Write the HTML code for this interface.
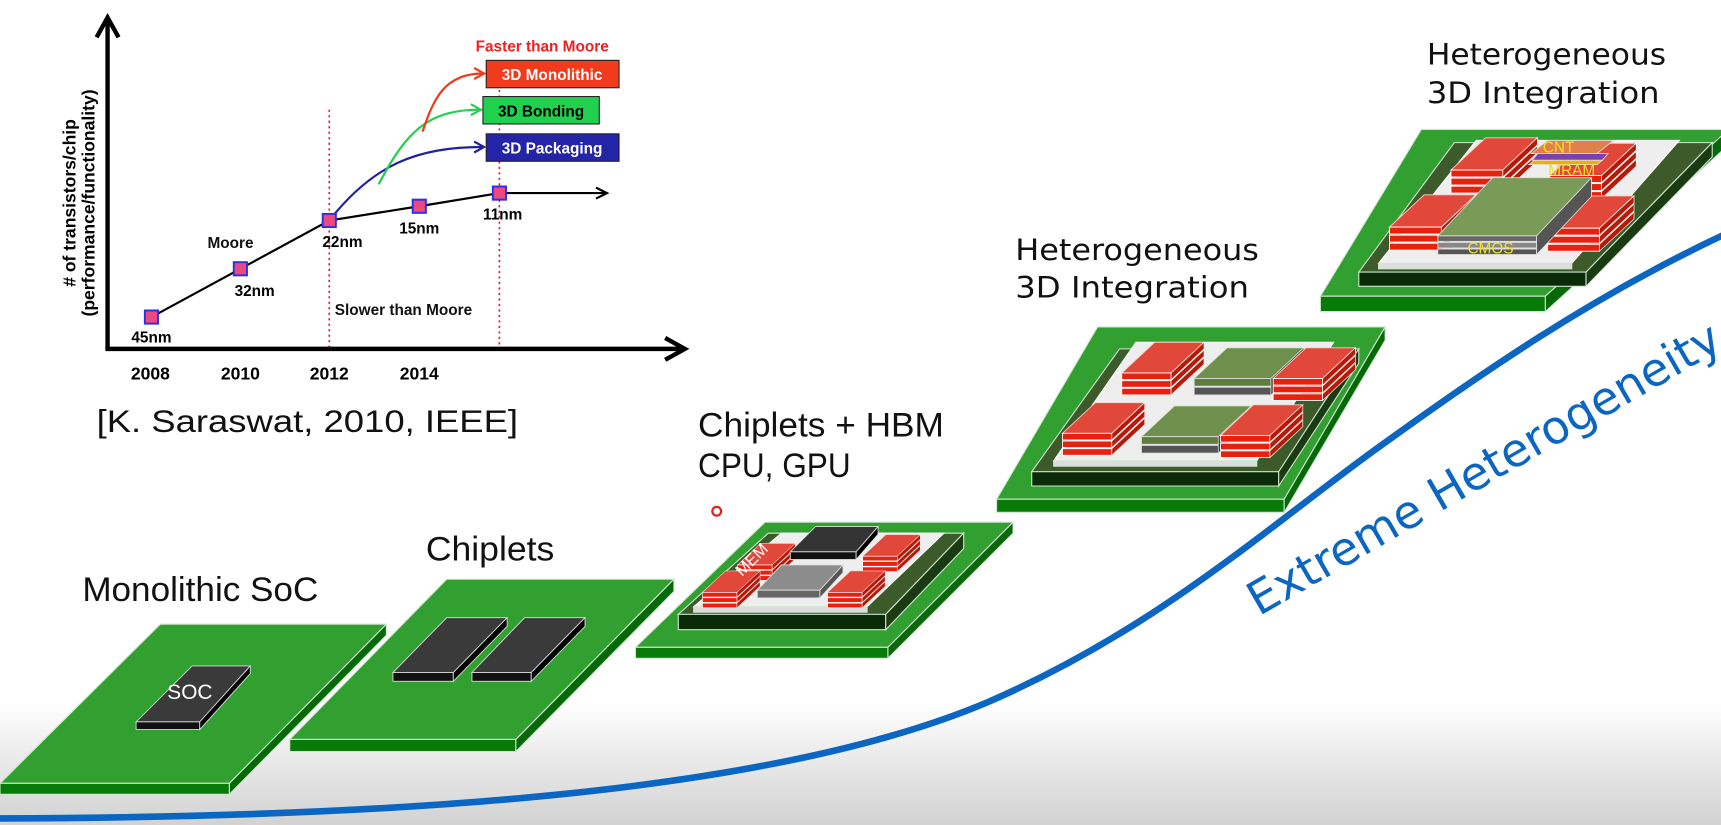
<!DOCTYPE html>
<html><head><meta charset="utf-8"><style>
html,body{margin:0;padding:0;background:#fff;}
svg{display:block;}
.b{font-family:"Liberation Sans",Arial,sans-serif;font-weight:bold;}
.t{font-family:"Liberation Sans",Arial,sans-serif;}
.d{font-family:"DejaVu Sans",sans-serif;}
</style></head><body>
<svg width="1721" height="825" viewBox="0 0 1568 752" preserveAspectRatio="none" xmlns="http://www.w3.org/2000/svg">
<defs>
<linearGradient id="bg" x1="0" y1="0" x2="0" y2="1">
<stop offset="0" stop-color="#ffffff"/><stop offset="1" stop-color="#d2d2d2"/></linearGradient>
<g id="rs">
<polygon points="0,0 45,0 75,-28 30,-28" fill="#e2483a" stroke="#f6d0c8" stroke-width="0.8"/>
<rect x="0" y="0" width="45" height="6" fill="#e8200e" stroke="#fff" stroke-width="0.8"/>
<rect x="0" y="7" width="45" height="6" fill="#e8200e" stroke="#fff" stroke-width="0.8"/>
<rect x="0" y="14" width="45" height="6" fill="#e8200e" stroke="#fff" stroke-width="0.8"/>
<polygon points="45,0 75,-28 75,-22 45,6" fill="#b81a0a" stroke="#fff" stroke-width="0.6"/>
<polygon points="45,7 75,-21 75,-15 45,13" fill="#b81a0a" stroke="#fff" stroke-width="0.6"/>
<polygon points="45,14 75,-14 75,-8 45,20" fill="#b81a0a" stroke="#fff" stroke-width="0.6"/>
</g>
<g id="og">
<polygon points="0,0 70,0 100,-28 30,-28" fill="#6f904c" stroke="#d8e4cc" stroke-width="0.8"/>
<rect x="0" y="0" width="70" height="7" fill="#5e7e3e" stroke="#ddd" stroke-width="0.8"/>
<rect x="0" y="8" width="70" height="7" fill="#555" stroke="#ddd" stroke-width="0.8"/>
<polygon points="70,0 100,-28 100,-13 70,15" fill="#444" stroke="#ddd" stroke-width="0.6"/>
</g>
</defs>
<rect width="1568" height="752" fill="#fff"/>
<rect x="0" y="640" width="1568" height="112" fill="url(#bg)"/>

<!-- Chart -->
<g stroke="#e02020" stroke-width="1.5" stroke-dasharray="2,3">
<line x1="300" y1="100" x2="300" y2="318"/><line x1="455" y1="62" x2="455" y2="318"/></g>
<g stroke="#000" stroke-width="4" fill="none">
<line x1="98" y1="318" x2="98" y2="18"/><line x1="96" y1="318" x2="622" y2="318"/>
<polyline points="88,34 98,16 108,34"/><polyline points="606,308 624,318 606,328"/>
</g>
<g stroke="#000" stroke-width="2" fill="none">
<polyline points="138,289 219,245 300,201 382,188 455,176 552,176"/>
<polyline points="543,171 553,176 543,181"/>
</g>
<path d="M300,201 C340,150 380,134 440,134" stroke="#2020a0" stroke-width="2" fill="none"/>
<polyline points="432,129 441,134 432,139" stroke="#2020a0" stroke-width="2" fill="none"/>
<path d="M345,168 C370,120 390,100 437,100" stroke="#20d050" stroke-width="2" fill="none"/>
<polyline points="429,95 438,100 429,105" stroke="#20d050" stroke-width="2" fill="none"/>
<path d="M385,120 C395,90 405,67 440,67" stroke="#f03a1a" stroke-width="2" fill="none"/>
<polyline points="432,62 441,67 432,72" stroke="#f03a1a" stroke-width="2" fill="none"/>
<g fill="#ea4a80" stroke="#3030e0" stroke-width="1.8">
<rect x="132" y="283" width="12" height="12"/><rect x="213" y="239" width="12" height="12"/>
<rect x="294" y="195" width="12" height="12"/><rect x="376" y="182" width="12" height="12"/>
<rect x="449" y="170" width="12" height="12"/></g>
<rect x="443" y="55" width="121" height="25" fill="#f23a1c" stroke="#222"/>
<rect x="440" y="88" width="106" height="25" fill="#22d050" stroke="#222"/>
<rect x="443" y="122" width="121" height="25" fill="#2424a8" stroke="#222"/>
<g class="b" font-size="14">
<text x="503" y="73" fill="#fff" text-anchor="middle">3D Monolithic</text>
<text x="493" y="106" fill="#000" text-anchor="middle">3D Bonding</text>
<text x="503" y="140" fill="#fff" text-anchor="middle">3D Packaging</text>
<text x="494" y="47" fill="#f02020" text-anchor="middle">Faster than Moore</text>
<text x="305" y="287" fill="#111">Slower than Moore</text>
<text x="210" y="226" text-anchor="middle" fill="#111">Moore</text>
<text x="138" y="312" text-anchor="middle">45nm</text>
<text x="232" y="270" text-anchor="middle">32nm</text>
<text x="312" y="225" text-anchor="middle">22nm</text>
<text x="382" y="213" text-anchor="middle">15nm</text>
<text x="458" y="200" text-anchor="middle">11nm</text>
</g>
<g class="b" font-size="16">
<text x="137" y="346" text-anchor="middle">2008</text><text x="219" y="346" text-anchor="middle">2010</text>
<text x="300" y="346" text-anchor="middle">2012</text><text x="382" y="346" text-anchor="middle">2014</text>
<text transform="translate(69,185) rotate(-90)" text-anchor="middle">&#35; of transistors/chip</text>
<text transform="translate(86,185) rotate(-90)" text-anchor="middle">(performance/functionality)</text>
</g>
<text x="88" y="394" class="t" font-size="29" fill="#111" textLength="384" lengthAdjust="spacingAndGlyphs">[K. Saraswat, 2010, IEEE]</text>

<!-- labels -->
<g class="t" font-size="31" fill="#111">
<text x="75" y="548" textLength="215" lengthAdjust="spacingAndGlyphs">Monolithic SoC</text>
<text x="388" y="511" textLength="117" lengthAdjust="spacingAndGlyphs">Chiplets</text>
<text x="636" y="398" textLength="224" lengthAdjust="spacingAndGlyphs">Chiplets + HBM</text>
<text x="636" y="435" textLength="139" lengthAdjust="spacingAndGlyphs">CPU, GPU</text>
</g>
<g class="d" font-size="27" fill="#111">
<text x="925" y="237" textLength="222" lengthAdjust="spacingAndGlyphs">Heterogeneous</text>
<text x="925" y="271" textLength="213" lengthAdjust="spacingAndGlyphs">3D Integration</text>
<text x="1300" y="59" textLength="218" lengthAdjust="spacingAndGlyphs">Heterogeneous</text>
<text x="1300" y="94" textLength="212" lengthAdjust="spacingAndGlyphs">3D Integration</text>
</g>
<circle cx="653" cy="466" r="4" fill="none" stroke="#e02020" stroke-width="2"/>

<!-- curve -->
<path d="M0,746 C350,745 700,725 900,640 C1050,575 1150,485 1250,412 C1350,340 1450,270 1575,212" stroke="#0a66c2" stroke-width="6" fill="none"/>
<text transform="translate(1147,562) rotate(-30)" class="d" font-size="42" fill="#0a66c2">Extreme Heterogeneity</text>

<g stroke="#cfe6cf" stroke-width="1">
<polygon points="146,569 352,569 209,714 0,714" fill="#31a031"/>
<polygon points="0,714 209,714 209,724 0,724" fill="#077a07"/>
<polygon points="209,714 352,569 352,579 209,724" fill="#066806"/>
<polygon points="407,528 614,528 470,674 264,674" fill="#31a031"/>
<polygon points="264,674 470,674 470,685 264,685" fill="#077a07"/>
<polygon points="470,674 614,528 614,539 470,685" fill="#066806"/>
</g>
<g stroke="#ddd" stroke-width="0.8">
<polygon points="175,607 228,607 182,658 124,658" fill="#3a3a3a"/>
<rect x="124" y="658" width="58" height="7" fill="#111"/>
<polygon points="182,658 228,607 228,614 182,665" fill="#000"/>
<polygon points="407,563 462,563 413,613 358,613" fill="#3a3a3a"/>
<rect x="358" y="613" width="55" height="8" fill="#111"/>
<polygon points="413,613 462,563 462,571 413,621" fill="#000"/>
<polygon points="478,563 533,563 484,613 430,613" fill="#3a3a3a"/>
<rect x="430" y="613" width="54" height="8" fill="#111"/>
<polygon points="484,613 533,563 533,571 484,621" fill="#000"/>
</g>
<text x="173" y="637" class="t" font-size="19" fill="#fff" text-anchor="middle">SOC</text>

<!-- Platform 3 -->
<g stroke="#cfe6cf" stroke-width="1">
<polygon points="697,476 923,476 809,590 579,590" fill="#31a031"/>
<polygon points="579,590 809,590 809,600 579,600" fill="#077a07"/>
<polygon points="809,590 923,476 923,486 809,600" fill="#066806"/>
<polygon points="700,486 878,486 807,560 618,560" fill="#3d5a2a"/>
<polygon points="618,560 807,560 807,574 618,574" fill="#0a2a08"/>
<polygon points="807,560 878,486 878,500 807,574" fill="#1a3a12"/>
<polygon points="712,486 860,486 790,553 632,553" fill="#eeeeee" stroke="#fff"/>
<polygon points="632,553 790,553 790,558 632,558" fill="#ddd"/>
</g>
<g transform="translate(672,515) scale(0.7)"><use href="#rs"/></g>
<g transform="translate(640,540) scale(0.7)"><use href="#rs"/></g>
<g transform="translate(786,507) scale(0.7)"><use href="#rs"/></g>
<g transform="translate(754,540) scale(0.7)"><use href="#rs"/></g>
<g stroke="#ddd" stroke-width="0.8">
<polygon points="743,480 800,480 780,503 720,503" fill="#333"/>
<rect x="720" y="503" width="60" height="7" fill="#111"/>
<polygon points="780,503 800,480 800,487 780,510" fill="#000"/>
<polygon points="712,515 768,515 747,538 690,538" fill="#8c8c8c"/>
<rect x="690" y="538" width="57" height="7" fill="#666"/>
<polygon points="747,538 768,515 768,522 747,545" fill="#555"/>
</g>
<text transform="translate(676,526) rotate(-45)" class="t" font-size="15" fill="#fff">MEM</text>

<!-- Platform 4 -->
<g stroke="#cfe6cf" stroke-width="1">
<polygon points="1000,298 1262,298 1170,455 908,455" fill="#31a031"/>
<polygon points="908,455 1170,455 1170,467 908,467" fill="#077a07"/>
<polygon points="1170,455 1262,298 1262,310 1170,467" fill="#066806"/>
<polygon points="1020,318 1238,318 1165,430 940,430" fill="#3d5a2a"/>
<polygon points="940,430 1165,430 1165,443 940,443" fill="#0a2a08"/>
<polygon points="1165,430 1238,318 1238,331 1165,443" fill="#1a3a12"/>
<polygon points="1035,312 1215,312 1145,420 960,420" fill="#eeeeee" stroke="#fff"/>
<polygon points="960,420 1145,420 1145,425 960,425" fill="#ddd"/>
</g>
<use href="#rs" transform="translate(1022,340)"/>
<use href="#og" transform="translate(1088,345)"/>
<use href="#rs" transform="translate(1160,345)"/>
<use href="#rs" transform="translate(968,395)"/>
<use href="#og" transform="translate(1040,398)"/>
<use href="#rs" transform="translate(1112,397)"/>

<!-- Platform 5 -->
<g stroke="#cfe6cf" stroke-width="1">
<polygon points="1295,118 1575,118 1408,270 1203,270" fill="#31a031"/>
<polygon points="1203,270 1408,270 1408,284 1203,284" fill="#077a07"/>
<polygon points="1408,270 1575,118 1575,132 1408,284" fill="#066806"/>
<polygon points="1325,130 1560,130 1445,248 1238,248" fill="#3d5a2a"/>
<polygon points="1238,248 1445,248 1445,261 1238,261" fill="#0a2a08"/>
<polygon points="1445,248 1560,130 1560,143 1445,261" fill="#1a3a12"/>
<polygon points="1345,128 1530,128 1432,240 1256,240" fill="#eeeeee" stroke="#fff"/>
<polygon points="1256,240 1432,240 1432,245 1256,245" fill="#ddd"/>
</g>
<g transform="translate(1322,155) scale(1.05)"><use href="#rs"/></g>
<g transform="translate(1412,160) scale(1.05)"><use href="#rs"/></g>
<g transform="translate(1266,207) scale(1.05)"><use href="#rs"/></g>
<g transform="translate(1410,208) scale(1.05)"><use href="#rs"/></g>
<g stroke="#ddd" stroke-width="0.8">
<polygon points="1393,150 1398,146 1460,146 1455,150" fill="#f0b000"/>
<polygon points="1396,146 1401,140 1465,140 1460,146" fill="#7a40b0"/>
<polygon points="1410,128 1470,128 1455,140 1395,140" fill="#e0804a"/>
<polygon points="1360,162 1450,162 1400,215 1310,215" fill="#7a9a58"/>
<rect x="1310" y="215" width="90" height="5" fill="#666"/>
<rect x="1310" y="221" width="90" height="5" fill="#888"/>
<rect x="1310" y="227" width="90" height="5" fill="#555"/>
<polygon points="1400,215 1450,162 1450,179 1400,232" fill="#555"/>
</g>
<g class="t" font-size="14" fill="#f0e020">
<text x="1420" y="139" text-anchor="middle">CNT</text>
<text x="1432" y="160" text-anchor="middle">MRAM</text>
<text x="1358" y="231" text-anchor="middle">CMOS</text>
</g>
</svg>
</body></html>
